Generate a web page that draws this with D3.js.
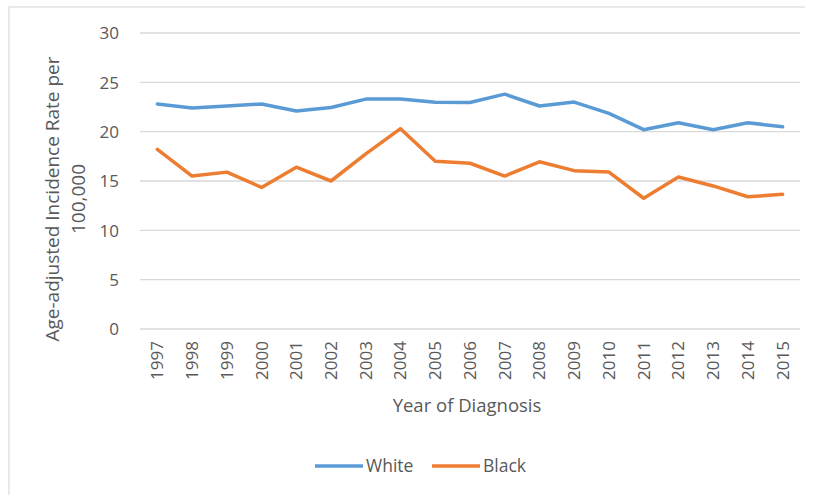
<!DOCTYPE html>
<html lang="en">
<head>
<meta charset="utf-8">
<title>Incidence rate by year</title>
<script src="https://cdn.jsdelivr.net/npm/d3@7"></script>
<style>
    body { margin: 0; background: #fff; }
    svg text { font-family: "Open Sans", Lato, sans-serif; fill: #595959; }
</style>
</head>
<body>
<script>
var years = ["1997","1998","1999","2000","2001","2002","2003","2004","2005","2006",
             "2007","2008","2009","2010","2011","2012","2013","2014","2015"];
var white = [22.8, 22.4, 22.6, 22.8, 22.1, 22.45, 23.3, 23.3, 22.97, 22.95,
             23.8, 22.6, 23.0, 21.85, 20.2, 20.9, 20.2, 20.9, 20.5];
var black = [18.2, 15.5, 15.9, 14.35, 16.4, 15.0, 17.75, 20.3, 17.0, 16.8,
             15.5, 16.95, 16.05, 15.9, 13.25, 15.4, 14.5, 13.4, 13.65];
var yTicks = [0, 5, 10, 15, 20, 25, 30];

var w = 815, h = 496;
var plotL = 140, plotR = 800, plotT = 33, plotB = 329;

var svg = d3.select("body").append("svg")
    .attr("width", w)
    .attr("height", h);

// chart frame
svg.append("path")
    .attr("d", "M9,495 L9,7 L805,7")
    .attr("fill", "none")
    .attr("stroke", "#e3e3e3")
    .attr("stroke-width", 1.5);

var x = d3.scaleBand().domain(years).range([plotL, plotR]);
var y = d3.scaleLinear().domain([0, 30]).range([plotB, plotT]);

// gridlines
svg.selectAll("line.grid")
    .data(yTicks)
    .enter()
    .append("line")
    .attr("class", "grid")
    .attr("x1", plotL)
    .attr("x2", plotR)
    .attr("y1", function(d){ return y(d); })
    .attr("y2", function(d){ return y(d); })
    .attr("stroke", "#d9d9d9")
    .attr("stroke-width", 1.3);

// y axis labels
var yAxis = d3.axisLeft(y).tickValues(yTicks).tickSize(0).tickPadding(0);
var gy = svg.append("g").attr("transform", "translate(119,0)").call(yAxis);
gy.select(".domain").remove();
gy.attr("font-family", null);
gy.selectAll("text").attr("font-size", 17).attr("dy", "0.35em");

// x axis labels
var xAxis = d3.axisBottom(x).tickSize(0);
var gx = svg.append("g").attr("transform", "translate(0," + plotB + ")").call(xAxis);
gx.select(".domain").remove();
gx.attr("font-family", null);
gx.selectAll("text")
    .attr("font-size", 17)
    .attr("text-anchor", "end")
    .attr("transform", "rotate(-90)")
    .attr("x", -12)
    .attr("y", 0)
    .attr("dy", "0.35em");

// axis titles
svg.append("text")
    .attr("x", 467)
    .attr("y", 412)
    .attr("text-anchor", "middle")
    .attr("font-size", 18.5)
    .text("Year of Diagnosis");

var yTitle = svg.append("text")
    .attr("transform", "translate(59,199) rotate(-90)")
    .attr("text-anchor", "middle")
    .attr("font-size", 19);
yTitle.append("tspan").attr("x", 0).attr("y", 0).text("Age-adjusted Incidence Rate per");
yTitle.append("tspan").attr("x", 0).attr("y", 26).text("100,000");

// lines
var line = d3.line()
    .x(function(d, i){ return x(years[i]) + x.bandwidth() / 2; })
    .y(function(d){ return y(d); });

var series = [
    {name: "White", values: white, color: "#5b9bd5"},
    {name: "Black", values: black, color: "#ed7d31"}
];

svg.selectAll("path.series")
    .data(series)
    .enter()
    .append("path")
    .attr("class", "series")
    .attr("d", function(d){ return line(d.values); })
    .attr("fill", "none")
    .attr("stroke", function(d){ return d.color; })
    .attr("stroke-width", 3.5)
    .attr("stroke-linejoin", "round")
    .attr("stroke-linecap", "round");

// legend
var legendX = [315, 432];
var lg = svg.selectAll("g.legend")
    .data(series)
    .enter()
    .append("g")
    .attr("class", "legend")
    .attr("transform", function(d, i){ return "translate(" + legendX[i] + ",466)"; });
lg.append("line")
    .attr("x1", 0).attr("x2", 48)
    .attr("stroke", function(d){ return d.color; })
    .attr("stroke-width", 3.5);
lg.append("text")
    .attr("x", 51)
    .attr("dy", "0.35em")
    .attr("font-size", 17.5)
    .text(function(d){ return d.name; });
</script>
</body>
</html>
